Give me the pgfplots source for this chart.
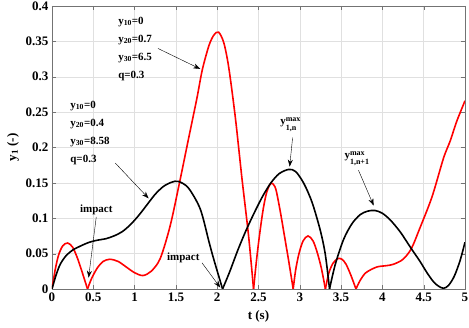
\documentclass[border=0pt]{standalone}
\usepackage{pgfplots}
\pgfplotsset{compat=1.18}
\usepackage{fontspec}
\setmainfont{Liberation Serif}
\usetikzlibrary{arrows.meta}
\tikzset{
  ann/.style={font=\bfseries\fontsize{11}{18}\selectfont, align=left, inner sep=0pt},
  arr/.style={-{Stealth[length=7pt,width=5pt]}, line width=0.4pt},
}
\newcommand{\ymax}[1]{y\raisebox{-1.1ex}{\shortstack[l]{\fontsize{8}{11}\selectfont max\\\fontsize{8}{11}\selectfont #1}}}
\begin{document}
\begin{tikzpicture}
\useasboundingbox (-52pt,-39pt) rectangle (417pt,289pt);
\begin{axis}[
  scale only axis,
  width=413pt, height=283pt,
  xmin=0, xmax=5, ymin=0, ymax=0.4,
  xtick={0,0.5,1,1.5,2,2.5,3,3.5,4,4.5,5},
  ytick={0,0.05,0.1,0.15,0.2,0.25,0.3,0.35,0.4},
  grid=major,
  major grid style={black!12},
  axis line style={black!55},
  tick style={black!55},
  tick align=inside,
  major tick length=4pt,
  ticklabel style={font=\bfseries\fontsize{13}{13}\selectfont},
  /pgf/number format/assume math mode=true,
  /pgf/number format/fixed,
  xlabel={t (s)},
  ylabel={y\textsubscript{1} (-)},
  label style={font=\bfseries\fontsize{13}{13}\selectfont},
  xlabel style={yshift=-2pt},
  every axis plot/.append style={line width=1.6pt, smooth, tension=0.5},
]
% red response (y20=0.7, y30=6.5)
\addplot[red] coordinates {(0,0) (0.04,0.028) (0.08,0.048) (0.13,0.061) (0.19,0.065) (0.25,0.059) (0.31,0.043) (0.37,0.022) (0.43,0)};
\addplot[red] coordinates {(0.43,0) (0.48,0.015) (0.55,0.03) (0.62,0.039) (0.7,0.042) (0.8,0.039) (0.9,0.031) (1.0,0.023) (1.1,0.019) (1.2,0.025) (1.31,0.043) (1.43,0.089) (1.545,0.151) (1.654,0.213) (1.755,0.27) (1.82,0.31) (1.9,0.344) (1.96,0.359) (2.017,0.363) (2.08,0.348) (2.14,0.313) (2.22,0.242) (2.3,0.156) (2.38,0.075) (2.44,0)};
\addplot[red] coordinates {(2.44,0) (2.48,0.045) (2.52,0.083) (2.56,0.115) (2.6,0.137) (2.64,0.148) (2.67,0.149) (2.71,0.141) (2.76,0.112) (2.81,0.078) (2.865,0.04) (2.92,0)};
\addplot[red] coordinates {(2.92,0) (2.95,0.027) (2.99,0.05) (3.04,0.068) (3.1,0.075) (3.16,0.068) (3.21,0.052) (3.26,0.03) (3.31,0)};
\addplot[red] coordinates {(3.31,0) (3.35,0.022) (3.4,0.036) (3.46,0.043) (3.51,0.042) (3.56,0.035) (3.62,0.019) (3.68,0)};
\addplot[red] coordinates {(3.68,0) (3.73,0.012) (3.8,0.023) (3.93,0.031) (4.05,0.033) (4.135,0.035) (4.25,0.042) (4.35,0.057) (4.45,0.085) (4.6,0.13) (4.74,0.185) (4.82,0.209) (4.9,0.237) (5,0.266)};
% black response (y20=0.4, y30=8.58)
\addplot[black] coordinates {(0,0) (0.05,0.02) (0.1,0.035) (0.17,0.047) (0.25,0.055) (0.35,0.061) (0.45,0.066) (0.55,0.069) (0.65,0.071) (0.75,0.075) (0.85,0.081) (0.95,0.091) (1.05,0.104) (1.15,0.119) (1.25,0.134) (1.35,0.145) (1.45,0.151) (1.53,0.152) (1.65,0.143) (1.795,0.113) (1.9,0.067) (1.956,0.043) (2.065,0)};
\addplot[black] coordinates {(2.065,0) (2.15,0.024) (2.25,0.055) (2.35,0.083) (2.45,0.108) (2.55,0.131) (2.65,0.15) (2.75,0.163) (2.865,0.169) (2.95,0.166) (3.05,0.149) (3.15,0.122) (3.25,0.082) (3.31,0.048) (3.36,0)};
\addplot[black] coordinates {(3.36,0) (3.43,0.035) (3.53,0.07) (3.63,0.092) (3.73,0.105) (3.82,0.11) (3.91,0.111) (4.0,0.107) (4.1,0.097) (4.22,0.08) (4.35,0.057) (4.45,0.04) (4.54,0.023) (4.62,0.01) (4.68,0.004) (4.74,0.001) (4.8,0.005) (4.87,0.018) (4.94,0.04) (5,0.066)};
% annotations
\node[ann, anchor=north west] at (axis cs:0.80,0.385) {y\textsubscript{10}=0\\y\textsubscript{20}=0.7\\y\textsubscript{30}=6.5\\q=0.3};
\draw[arr] (axis cs:1.283,0.340) -- (axis cs:1.795,0.311);
\node[ann, anchor=north west] at (axis cs:0.22,0.266) {y\textsubscript{10}=0\\y\textsubscript{20}=0.4\\y\textsubscript{30}=8.58\\q=0.3};
\draw[arr] (axis cs:0.766,0.178) -- (axis cs:1.17,0.128);
\node[ann] at (axis cs:0.536,0.112) {impact};
\draw[arr] (axis cs:0.536,0.102) -- (axis cs:0.443,0.016);
\node[ann] at (axis cs:1.59,0.044) {impact};
\draw[arr] (axis cs:1.816,0.037) -- (axis cs:2.037,0.002);
\node[ann] at (axis cs:2.886,0.232) {\ymax{1,n}};
\draw[arr] (axis cs:2.913,0.214) -- (axis cs:2.877,0.173);
\node[ann] at (axis cs:3.69,0.184) {\ymax{1,n+1}};
\draw[arr] (axis cs:3.71,0.168) -- (axis cs:3.894,0.118);
\end{axis}
\end{tikzpicture}
\end{document}
